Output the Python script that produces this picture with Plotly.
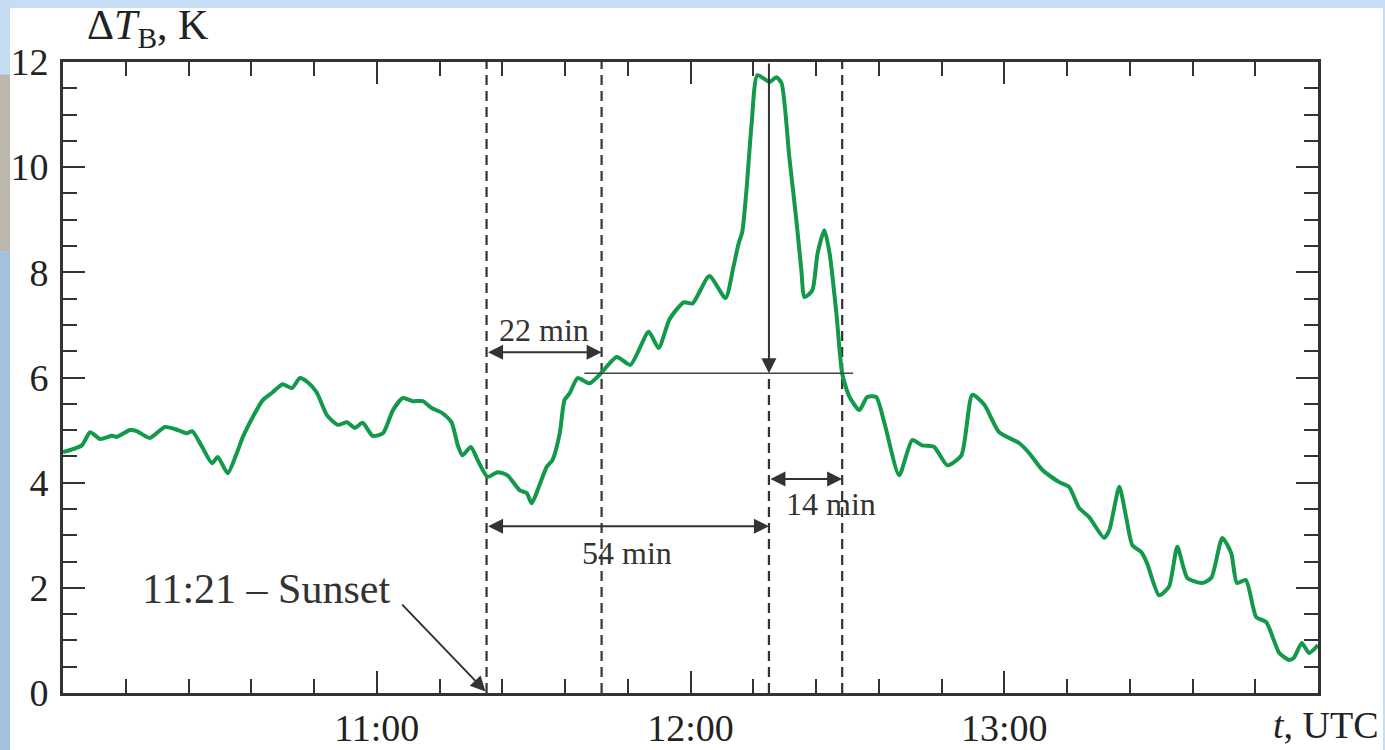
import plotly.graph_objects as go

# time in minutes after 10:00 UTC
t_min = [0, 3.6, 5.2, 7.1, 9.4, 10.3, 12.8, 14.1, 16.6, 19.5, 22.0, 23.7, 24.7, 26.6,
         28.5, 29.6, 31.5, 33.3, 34.4, 36.3, 38.2, 40.1, 42.0, 43.8, 45.3, 46.8, 48.5,
         50.5, 52.6, 54.3, 55.8, 57.3, 59.2, 61.2, 63.1, 65.0, 66.9, 68.8, 70.5, 72.6,
         74.3, 75.5, 76.4, 78.0, 79.3, 81.2, 83.1, 85.0, 87.3, 88.7, 89.6, 92.5, 93.6,
         95.0, 95.9, 96.9, 98.4, 100.7, 102.6, 105.9, 108.5, 112.0, 113.9, 116.0, 118.7,
         120.4, 123.6, 126.7, 128.2, 129.2, 129.9, 130.7, 131.7, 132.8, 135.1, 136.4,
         137.4, 138.9, 140.3, 141.2, 141.8, 143.3, 144.3, 145.6, 146.6, 147.9, 149.0,
         150.4, 152.3, 153.8, 155.5, 157.1, 159.9, 162.4, 164.3, 166.6, 169.1, 171.8,
         173.9, 176.2, 179.0, 182.9, 184.8, 187.3, 190.5, 192.4, 194.3, 196.2, 199.1,
         200.1, 202.0, 203.3, 204.5, 206.2, 207.3, 209.6, 211.5, 213.1, 215.0, 217.8,
         219.6, 221.7, 223.4, 224.5, 226.2, 228.2, 230.1, 232.6, 234.5, 235.4, 236.9,
         238.3, 240.0]
dtb_K = [4.58, 4.71, 4.96, 4.83, 4.89, 4.87, 5.00, 4.98, 4.85, 5.06, 5.00, 4.94, 4.98, 4.68,
         4.37, 4.49, 4.18, 4.58, 4.87, 5.25, 5.57, 5.72, 5.87, 5.80, 5.99, 5.91, 5.72,
         5.28, 5.10, 5.15, 5.04, 5.14, 4.89, 4.94, 5.38, 5.61, 5.55, 5.55, 5.42, 5.32,
         5.15, 4.71, 4.52, 4.68, 4.43, 4.11, 4.20, 4.14, 3.86, 3.80, 3.61, 4.30, 4.43,
         4.94, 5.57, 5.70, 5.99, 5.89, 6.05, 6.39, 6.24, 6.87, 6.56, 7.11, 7.43,
         7.41, 7.93, 7.51, 8.10, 8.55, 8.77, 9.56, 10.84, 11.75, 11.62, 11.71,
         11.60, 10.19, 8.94, 8.04, 7.53, 7.66, 8.36, 8.80, 8.36, 7.22, 6.08,
         5.63, 5.38, 5.63, 5.63, 5.13, 4.14, 4.81, 4.71, 4.68, 4.33, 4.52,
         5.67, 5.48, 4.96, 4.75, 4.56, 4.24, 4.01, 3.92, 3.52, 3.35, 2.95,
         3.10, 3.92, 3.35, 2.81, 2.68, 2.47, 1.86, 2.02, 2.78, 2.19, 2.09,
         2.19, 2.95, 2.66, 2.09, 2.15, 1.44, 1.35, 0.76, 0.63, 0.67, 0.95,
         0.76, 0.91]

x_tickvals = [60, 120, 180]
x_ticktext = ["11:00", "12:00", "13:00"]

# event times (minutes after 10:00): 11:21 sunset, 11:43, 12:15, 12:29
t_sunset, t_b, t_peak, t_d = 81, 103, 135, 149
level_K = 6.08

FONT = "Liberation Serif, Times New Roman, serif"
INK = "#333333"

fig = go.Figure()
fig.add_trace(go.Scatter(x=t_min, y=dtb_K, mode="lines",
                         line=dict(color="#12994a", width=4, shape="spline", smoothing=0.6),
                         hoverinfo="skip", showlegend=False))

shapes = []
# page decoration: light-blue frame and white panel
shapes.append(dict(type="rect", xref="paper", yref="paper", x0=-0.0422, x1=1.0518,
                   y0=-0.12, y1=1.0856, fillcolor="white", line=dict(width=0), layer="below"))
for y0, y1, c in [(0.98, 1.2, "#c4dcf2"), (0.70, 0.98, "#bcb7ad"), (-0.2, 0.70, "#a3c0dc")]:
    shapes.append(dict(type="rect", xref="paper", yref="paper", x0=-0.0510, x1=-0.0422,
                       y0=y0, y1=y1, fillcolor=c, line=dict(width=0), layer="below"))

dash = "10px,6px"
for tv, top in [(t_sunset, 12), (t_b, 12), (t_peak, level_K), (t_d, 12)]:
    shapes.append(dict(type="line", xref="x", yref="y", x0=tv, x1=tv, y0=0, y1=top,
                       line=dict(color=INK, width=2.2, dash=dash), layer="below"))
# horizontal level line
shapes.append(dict(type="line", xref="x", yref="y", x0=99.7, x1=151.1, y0=level_K, y1=level_K,
                   line=dict(color="#444444", width=1.6)))

annotations = []

def arrow(x, y, ax, ay, both=False):
    annotations.append(dict(x=x, y=y, ax=ax, ay=ay, xref="x", yref="y", axref="x", ayref="y",
                            text="", showarrow=True, arrowhead=2, arrowsize=1.5, arrowwidth=2,
                            arrowcolor=INK, arrowside="end+start" if both else "end",
                            startarrowhead=2, startarrowsize=1.5))

arrow(t_b, 6.48, t_sunset, 6.48, both=True)
arrow(t_peak, 3.17, t_sunset, 3.17, both=True)
arrow(t_d, 4.07, t_peak, 4.07, both=True)
arrow(t_peak, level_K, t_peak, 12)
arrow(80.8, 0.03, 64.6, 1.71)

def label(x, y, text, size):
    annotations.append(dict(x=x, y=y, xref="x", yref="y", text=text, showarrow=False,
                            font=dict(family=FONT, size=size, color=INK),
                            xanchor="center", yanchor="middle"))

label(92, 6.90, "22 min", 32)
label(107.8, 2.66, "54 min", 32)
label(146.8, 3.59, "14 min", 32)
label(38.8, 1.98, "11:21 – Sunset", 42)

annotations.append(dict(xref="paper", yref="paper", x=0.0175, y=1.054, xanchor="left",
                        yanchor="middle", showarrow=False,
                        text="Δ<i>T</i><sub>B</sub>, K",
                        font=dict(family=FONT, size=42, color="#222222")))
annotations.append(dict(xref="paper", yref="paper", x=1.050, y=-0.050, xanchor="right",
                        yanchor="middle", showarrow=False,
                        text="<i>t</i>, UTC",
                        font=dict(family=FONT, size=38, color="#222222")))

axis_common = dict(showgrid=False, zeroline=False, showline=True, linecolor=INK, linewidth=2.6,
                   mirror="ticks", ticks="inside", ticklen=22, tickwidth=2.4, tickcolor=INK,
                   automargin=False)

fig.update_layout(
    width=1385, height=750,
    margin=dict(l=63, r=67, t=62, b=57),
    paper_bgcolor="#c6def4", plot_bgcolor="white",
    shapes=shapes, annotations=annotations,
    xaxis=dict(range=[0, 240], tickmode="array", tickvals=x_tickvals, ticktext=x_ticktext,
               tickfont=dict(family=FONT, size=38, color="#222222"), ticklabelstandoff=0,
               minor=dict(tick0=0, dtick=12, ticks="inside", ticklen=14, tickwidth=2.4,
                          tickcolor=INK),
               **axis_common),
    yaxis=dict(range=[0, 12], tick0=0, dtick=2, ticklabelstandoff=4,
               tickfont=dict(family=FONT, size=38, color="#222222"),
               minor=dict(tick0=0, dtick=0.5, ticks="inside", ticklen=14, tickwidth=2.4,
                          tickcolor=INK),
               **axis_common),
)

fig.write_html("out.html")
